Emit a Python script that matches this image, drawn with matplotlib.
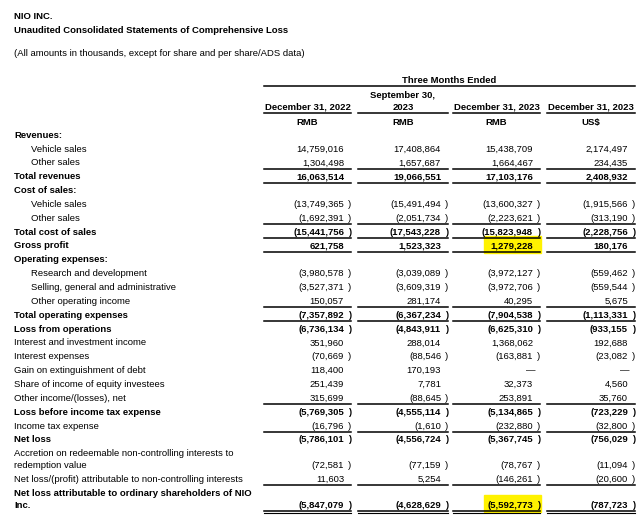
import matplotlib.pyplot as plt
from matplotlib.patches import Rectangle

plt.rcParams['font.family'] = ['Liberation Sans', 'DejaVu Sans']
fs = 6.8

# row labels (a "\n" means the label wraps to a second line)
labels = [
    'Revenues:', 'Vehicle sales', 'Other sales', 'Total revenues',
    'Cost of sales:', 'Vehicle sales', 'Other sales', 'Total cost of sales',
    'Gross profit', 'Operating expenses:', 'Research and development',
    'Selling, general and administrative', 'Other operating income',
    'Total operating expenses', 'Loss from operations',
    'Interest and investment income', 'Interest expenses',
    'Gain on extinguishment of debt', 'Share of income of equity investees',
    'Other income/(losses), net', 'Loss before income tax expense',
    'Income tax expense', 'Net loss',
    'Accretion on redeemable non-controlling interests to\nredemption value',
    'Net loss/(profit) attributable to non-controlling interests',
    'Net loss attributable to ordinary shareholders of NIO\nInc.',
]
bold_rows = [0, 3, 4, 7, 8, 9, 13, 14, 20, 22, 25]
indent_rows = [1, 2, 5, 6, 10, 11, 12]
underline_rows = [2, 3, 6, 7, 8, 12, 13, 19, 21, 24]
double_rows = [25]
DASH = 'dash'

col_headers = [['December 31, 2022'], ['September 30,', '2023'],
               ['December 31, 2023'], ['December 31, 2023']]
currencies = ['RMB', 'RMB', 'RMB', 'US$']

dec_2022 = [None, 14759016, 1304498, 16063514, None, -13749365, -1692391,
            -15441756, 621758, None, -3980578, -3527371, 150057, -7357892,
            -6736134, 351960, -70669, 118400, 251439, 315699, -5769305,
            -16796, -5786101, -72581, 11603, -5847079]
sep_2023 = [None, 17408864, 1657687, 19066551, None, -15491494, -2051734,
            -17543228, 1523323, None, -3039089, -3609319, 281174, -6367234,
            -4843911, 288014, -88546, 170193, 7781, -88645, -4555114,
            -1610, -4556724, -77159, 5254, -4628629]
dec_2023 = [None, 15438709, 1664467, 17103176, None, -13600327, -2223621,
            -15823948, 1279228, None, -3972127, -3972706, 40295, -7904538,
            -6625310, 1368062, -163881, DASH, 32373, 253891, -5134865,
            -232880, -5367745, -78767, -146261, -5592773]
dec_2023_usd = [None, 2174497, 234435, 2408932, None, -1915566, -313190,
                -2228756, 180176, None, -559462, -559544, 5675, -1113331,
                -933155, 192688, -23082, DASH, 4560, 35760, -723229,
                -32800, -756029, -11094, -20600, -787723]
columns = [dec_2022, sep_2023, dec_2023, dec_2023_usd]
highlights = [(2, 8), (2, 25)]   # (column, row)

fig = plt.figure(figsize=(6.4, 5.16), dpi=100)
ax = fig.add_axes([0, 0, 1, 1])
ax.set_xlim(0, 640)
ax.set_ylim(516, 0)
ax.axis('off')

col_l = [264, 358, 453, 547]
col_r = [351, 448, 540, 635]
lw = 1.1
bl = 3.7   # centre -> baseline offset in pixels


def put(x, y, s, **kw):
    ax.text(x, y + bl, s, fontsize=fs, va='baseline', **kw)


# title block
put(14, 15, 'NIO INC.', fontweight='bold')
put(14, 29, 'Unaudited Consolidated Statements of Comprehensive Loss', fontweight='bold')
put(14, 52, '(All amounts in thousands, except for share and per share/ADS data)')

# column headers
put((col_l[0] + col_r[3]) / 2, 79, 'Three Months Ended', fontweight='bold', ha='center')
ax.plot([col_l[0], col_r[3]], [86, 86], color='black', lw=lw)
for j in range(4):
    cx = (col_l[j] + col_r[j]) / 2
    hdr = col_headers[j]
    for k, line in enumerate(hdr):
        put(cx, 106 - 11.5 * (len(hdr) - 1 - k), line, fontweight='bold', ha='center')
    ax.plot([col_l[j], col_r[j]], [113, 113], color='black', lw=lw)
    put(cx, 121, currencies[j], fontweight='bold', ha='center')

# row y positions (value sits on the last line of a wrapped label)
row_y = []
y = 134
for lab in labels:
    n = lab.count('\n')
    row_y.append(y + 12 * n)
    y += 13.85 + 12 * n

for col, row in highlights:
    yy = row_y[row]
    ax.add_patch(Rectangle((col_l[col] + 31, yy - 9), col_r[col] - col_l[col] - 30, 17,
                           color='#FFF200', zorder=0))

for i, lab in enumerate(labels):
    yy = row_y[i]
    x = 31 if i in indent_rows else 14
    wt = 'bold' if i in bold_rows else 'normal'
    n = lab.count('\n')
    for k, part in enumerate(lab.split('\n')):
        put(x, yy - 12 * (n - k), part, fontweight=wt)
    for j, vals in enumerate(columns):
        v = vals[i]
        if v is None:
            continue
        r = col_r[j]
        if v == DASH:
            put(r - 5, yy, '\u2014', ha='right')
        elif v < 0:
            put(r - 7, yy, '({:,}'.format(-v), fontweight=wt, ha='right')
            put(r, yy, ')', fontweight=wt, ha='right')
        else:
            put(r - 7, yy, '{:,}'.format(v), fontweight=wt, ha='right')
    if i in underline_rows:
        for j in range(4):
            ax.plot([col_l[j], col_r[j]], [yy + 7, yy + 7], color='black', lw=lw)
    if i in double_rows:
        for j in range(4):
            ax.plot([col_l[j], col_r[j]], [yy + 6.5, yy + 6.5], color='black', lw=lw)
            ax.plot([col_l[j], col_r[j]], [yy + 9, yy + 9], color='black', lw=0.8)

fig.savefig('out.png', dpi=100, facecolor='white')
